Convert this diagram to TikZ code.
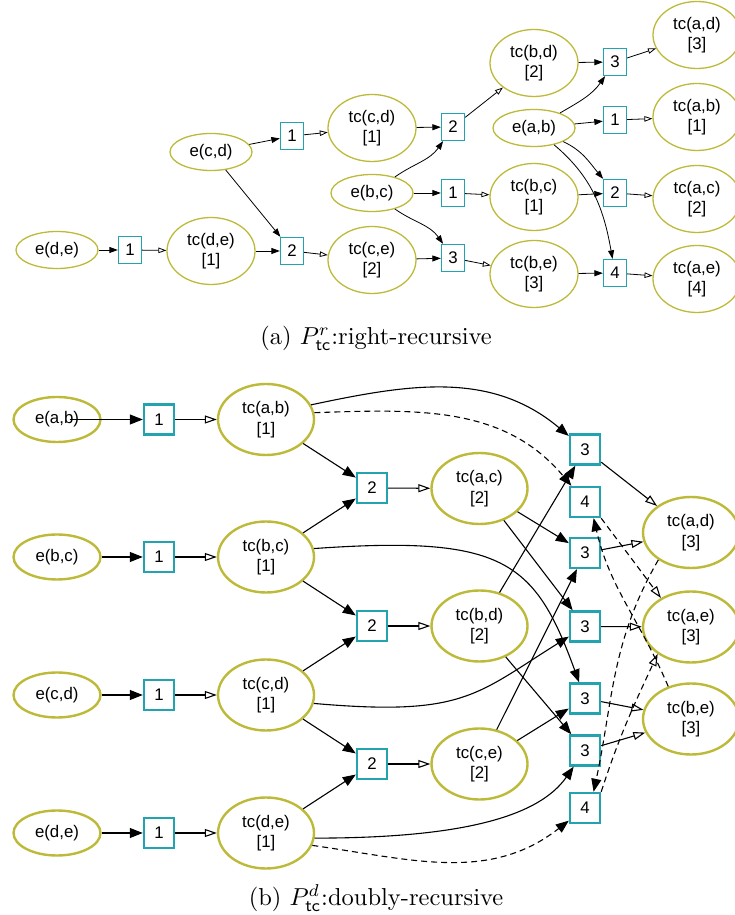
\documentclass[tikz,border=0pt]{standalone}
\usepackage{graphicx}
\usepackage{fontspec}
\newfontfamily\labfont{Liberation Sans}
\usetikzlibrary{arrows.meta,shapes.geometric}
\definecolor{olv}{RGB}{189,186,58}
\definecolor{tl}{RGB}{35,163,175}
\begin{document}
\begin{tikzpicture}[x=1pt,y=1pt,
  lab/.style={font={\labfont\fontsize{16.8}{20.5}\selectfont},align=center,inner sep=0pt},
  ea/.style={lab,ellipse,draw=olv,line width=1.3pt,minimum width=82pt,minimum height=37pt},
  ta/.style={lab,ellipse,draw=olv,line width=1.3pt,minimum width=88pt,minimum height=67pt},
  ba/.style={lab,rectangle,draw=tl,line width=1.3pt,minimum width=23pt,minimum height=27pt},
  eb/.style={lab,ellipse,draw=olv,line width=2.4pt,minimum width=87pt,minimum height=45pt},
  tb/.style={lab,ellipse,draw=olv,line width=2.4pt,minimum width=96pt,minimum height=71pt},
  bb/.style={lab,rectangle,draw=tl,line width=2.4pt,minimum width=30pt,minimum height=30pt},
  fa/.style={line width=0.8pt,-{Triangle[length=8.5pt,width=6pt]}},
  oa/.style={line width=0.8pt,-{Triangle[open,length=8pt,width=5.5pt]}},
  fb/.style={line width=1.1pt,-{Triangle[length=13pt,width=10pt]}},
  ob/.style={line width=1.1pt,-{Triangle[open,length=12pt,width=8pt]}},
  dsh/.style={dash pattern=on 6pt off 4pt},
  capt/.style={inner sep=0pt}]
\useasboundingbox (0,0) rectangle (735,915);
\clip (0,0) rectangle (735,915);
% ---------------- (a) ----------------
\node[ea] (Aede) at (57,665) {e(d,e)};
\node[ba] (Ab1de) at (130,665) {1};
\node[ta] (Atcde) at (211,664) {tc(d,e)\\{[1]}};
\node[ea] (Aecd) at (211,763) {e(c,d)};
\node[ba] (Ab1cd) at (292,779) {1};
\node[ba] (Ab2ce) at (292,664) {2};
\node[ta] (Atccd) at (372,787) {tc(c,d)\\{[1]}};
\node[ea] (Aebc) at (372,722) {e(b,c)};
\node[ta] (Atcce) at (372,655) {tc(c,e)\\{[2]}};
\node[ba] (Ab2bd) at (453,788) {2};
\node[ba] (Ab1bc) at (453,722) {1};
\node[ba] (Ab3be) at (453,657) {3};
\node[ta] (Atcbd) at (534,852) {tc(b,d)\\{[2]}};
\node[ea] (Aeab) at (534,787) {e(a,b)};
\node[ta] (Atcbc) at (534,718) {tc(b,c)\\{[1]}};
\node[ta] (Atcbe) at (534,641) {tc(b,e)\\{[3]}};
\node[ba] (Ab3ad) at (615,853) {3};
\node[ba] (Ab1ab) at (615,795) {1};
\node[ba] (Ab2ac) at (615,722) {2};
\node[ba] (Ab4ae) at (615,642) {4};
\node[ta] (Atcad) at (697,880) {tc(a,d)\\{[3]}};
\node[ta] (Atcab) at (697,798) {tc(a,b)\\{[1]}};
\node[ta] (Atcac) at (697,716) {tc(a,c)\\{[2]}};
\node[ta] (Atcae) at (697,636) {tc(a,e)\\{[4]}};
\draw[fa] (Aede) -- (Ab1de);
\draw[oa] (Ab1de) -- (Atcde);
\draw[fa] (Atcde) -- (Ab2ce);
\draw[fa] (Aecd) -- (Ab2ce);
\draw[fa] (Aecd) -- (Ab1cd);
\draw[oa] (Ab1cd) -- (Atccd);
\draw[oa] (Ab2ce) -- (Atcce);
\draw[fa] (Atccd) -- (Ab2bd);
\draw[fa] (Aebc) to[out=35,in=235] (Ab2bd);
\draw[fa] (Aebc) -- (Ab1bc);
\draw[fa] (Aebc) to[out=-35,in=125] (Ab3be);
\draw[fa] (Atcce) -- (Ab3be);
\draw[oa] (Ab2bd) -- (Atcbd);
\draw[oa] (Ab1bc) -- (Atcbc);
\draw[oa] (Ab3be) -- (Atcbe);
\draw[fa] (Atcbd) -- (Ab3ad);
\draw[fa] (Aeab) to[out=30,in=235] (Ab3ad);
\draw[fa] (Aeab) -- (Ab1ab);
\draw[fa] (Aeab) to[out=-25,in=130] (Ab2ac);
\draw[fa] (Aeab) to[out=-40,in=100] (Ab4ae);
\draw[fa] (Atcbc) -- (Ab2ac);
\draw[fa] (Atcbe) -- (Ab4ae);
\draw[oa] (Ab3ad) -- (Atcad);
\draw[oa] (Ab1ab) -- (Atcab);
\draw[oa] (Ab2ac) -- (Atcac);
\draw[oa] (Ab4ae) -- (Atcae);
\node[capt] (capa) at (376,577) {\scalebox{2.45}{(a) $P^{r}_{\mathsf{tc}}$:right-recursive}};
% ---------------- (b) ----------------
\node[eb] (eab) at (57,495.5) {e(a,b)};
\node[bb] (b1ab) at (159,495.5) {1};
\node[tb] (tcab) at (266,495.5) {tc(a,b)\\{[1]}};
\node[eb] (ebc) at (57,358) {e(b,c)};
\node[bb] (b1bc) at (159,358) {1};
\node[tb] (tcbc) at (266,358) {tc(b,c)\\{[1]}};
\node[eb] (ecd) at (57,220) {e(c,d)};
\node[bb] (b1cd) at (159,220) {1};
\node[tb] (tccd) at (266,220) {tc(c,d)\\{[1]}};
\node[eb] (ede) at (57,82) {e(d,e)};
\node[bb] (b1de) at (159,82) {1};
\node[tb] (tcde) at (266,82) {tc(d,e)\\{[1]}};
\node[bb] (b2ac) at (372,427) {2};
\node[tb] (tcac) at (479.5,426.5) {tc(a,c)\\{[2]}};
\node[bb] (b2bd) at (372,289) {2};
\node[tb] (tcbd) at (479.5,289) {tc(b,d)\\{[2]}};
\node[bb] (b2ce) at (372,151) {2};
\node[tb] (tcce) at (479.5,151) {tc(c,e)\\{[2]}};
\node[bb] (b3a) at (585,465.5) {3};
\node[bb] (b4a) at (585,413) {4};
\node[bb] (b3b) at (585,362) {3};
\node[bb] (b3c) at (585,288.5) {3};
\node[bb] (b3d) at (585,216.5) {3};
\node[bb] (b3f) at (585,164.5) {3};
\node[bb] (b4b) at (585,107) {4};
\node[tb] (tcad) at (691,382.5) {tc(a,d)\\{[3]}};
\node[tb] (tcae) at (691,288) {tc(a,e)\\{[3]}};
\node[tb] (tcbe) at (691,196) {tc(b,e)\\{[3]}};
\draw[fb,shorten <=-32pt] (eab) -- (b1ab);
\draw[fb] (ebc) -- (b1bc);
\draw[fb] (ecd) -- (b1cd);
\draw[fb] (ede) -- (b1de);
\draw[ob] (b1ab) -- (tcab);
\draw[ob] (b1bc) -- (tcbc);
\draw[ob] (b1cd) -- (tccd);
\draw[ob] (b1de) -- (tcde);
\draw[fb] (tcab) -- (b2ac);
\draw[fb] (tcbc) -- (b2ac);
\draw[fb] (tcbc) -- (b2bd);
\draw[fb] (tccd) -- (b2bd);
\draw[fb] (tccd) -- (b2ce);
\draw[fb] (tcde) -- (b2ce);
\draw[ob] (b2ac) -- (tcac);
\draw[ob] (b2bd) -- (tcbd);
\draw[ob] (b2ce) -- (tcce);
\draw[fb] (tcab.18) to[out=12,in=140] (b3a);
\draw[fb,dsh] (tcab.8) to[out=2,in=130] (b4a);
\draw[fb] (tcbc.10) to[out=4,in=110,out distance=190pt,in distance=130pt] (b3d);
\draw[fb] (tccd.-10) to[out=-5,in=212,out distance=150pt,in distance=110pt] (b3c);
\draw[fb] (tcde.-6) to[out=0,in=235,out distance=150pt,in distance=60pt] (b3f);
\draw[fb,dsh] (tcde.-15) to[out=-8,in=218] (b4b);
\draw[fb] (tcac) -- (b3b);
\draw[fb] (tcac) -- (b3c);
\draw[fb] (tcbd) -- (b3a);
\draw[fb] (tcbd) -- (b3f);
\draw[fb] (tcce) -- (b3b);
\draw[fb] (tcce) -- (b3d);
\draw[ob] (b3a) -- (tcad);
\draw[ob] (b3b) -- (tcad);
\draw[ob] (b3c) -- (tcae);
\draw[ob] (b3d) -- (tcbe);
\draw[ob] (b3f) -- (tcbe);
\draw[fb,dsh] (tcbe.125) to[out=113,in=-77] (b4a.-62);
\draw[ob,dsh] (b4a.south east) -- (tcae.136);
\draw[fb,dsh] (tcad.220) to[out=240,in=78] (b4b.62);
\draw[ob,dsh] (b4b.north east) to[out=72,in=245] (tcae.219);
\node[capt] (capb) at (376,17) {\scalebox{2.45}{(b) $P^{d}_{\mathsf{tc}}$:doubly-recursive}};
\end{tikzpicture}
\end{document}
